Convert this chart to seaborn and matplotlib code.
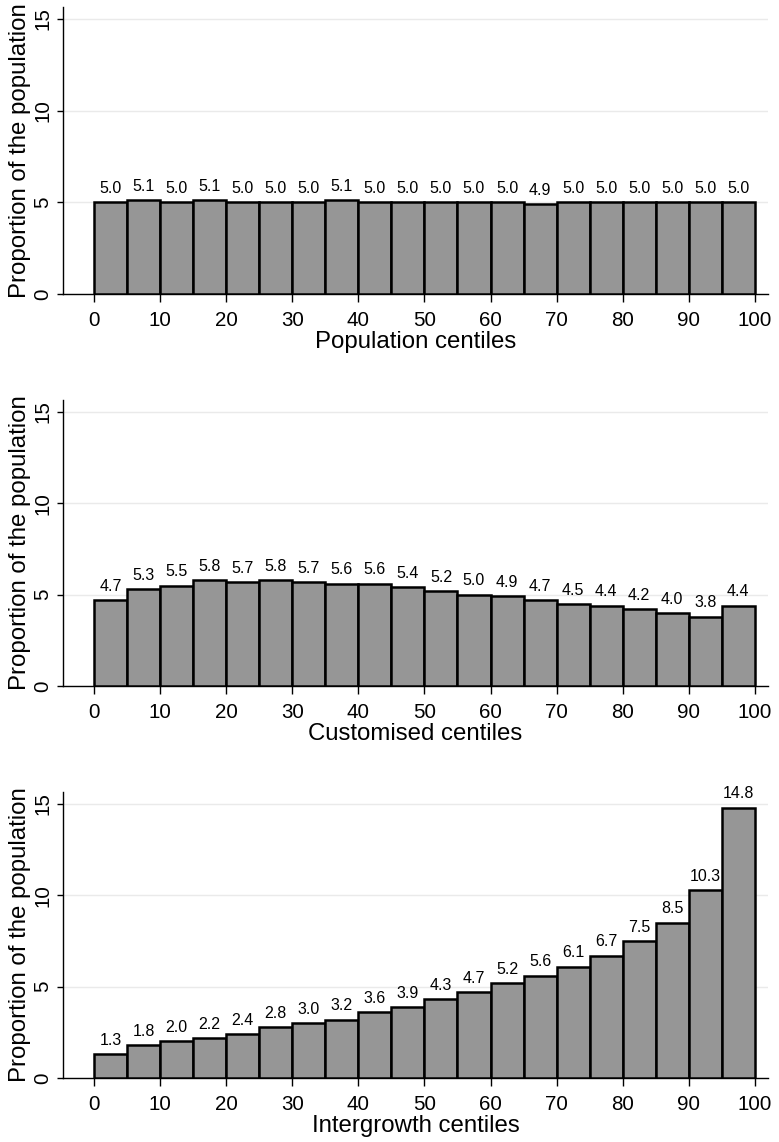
import numpy as np
import pandas as pd
import seaborn as sns
import matplotlib.pyplot as plt

# centile bins (width 5) and the share of the population in each
bin_edges = list(range(0, 105, 5))
bin_mid = [2.5, 7.5, 12.5, 17.5, 22.5, 27.5, 32.5, 37.5, 42.5, 47.5,
           52.5, 57.5, 62.5, 67.5, 72.5, 77.5, 82.5, 87.5, 92.5, 97.5]

population = [5.0, 5.1, 5.0, 5.1, 5.0, 5.0, 5.0, 5.1, 5.0, 5.0,
              5.0, 5.0, 5.0, 4.9, 5.0, 5.0, 5.0, 5.0, 5.0, 5.0]
customised = [4.7, 5.3, 5.5, 5.8, 5.7, 5.8, 5.7, 5.6, 5.6, 5.4,
              5.2, 5.0, 4.9, 4.7, 4.5, 4.4, 4.2, 4.0, 3.8, 4.4]
intergrowth = [1.3, 1.8, 2.0, 2.2, 2.4, 2.8, 3.0, 3.2, 3.6, 3.9,
               4.3, 4.7, 5.2, 5.6, 6.1, 6.7, 7.5, 8.5, 10.3, 14.8]

panels = [("Population centiles", population),
          ("Customised centiles", customised),
          ("Intergrowth centiles", intergrowth)]

x_ticks = list(range(0, 101, 10))
y_ticks = [0, 5, 10, 15]

sns.set_style("white", {"text.color": "black", "axes.labelcolor": "black",
                        "xtick.color": "black", "ytick.color": "black"})
plt.rcParams['font.family'] = ['Liberation Sans', 'DejaVu Sans']

fig = plt.figure(figsize=(7.79, 11.42), dpi=100)

# axes boxes (left, bottom, width, height) in figure fractions
boxes = [(0.0809, 0.7426, 0.905, 0.2513),
         (0.0809, 0.3993, 0.905, 0.2504),
         (0.0809, 0.0560, 0.905, 0.2505)]

for (label, vals), box in zip(panels, boxes):
    ax = fig.add_axes(box)
    df = pd.DataFrame({"centile": bin_mid, "share": vals})
    sns.histplot(data=df, x="centile", weights="share", bins=bin_edges,
                 color="#969696", alpha=1, edgecolor="black", linewidth=1.8,
                 ax=ax, zorder=3)

    ax.bar_label(ax.containers[0], labels=[f"{v:.1f}" for v in vals],
                 padding=4.5, fontsize=11.5, color="black")

    ax.set_xlim(-4.7, 102)
    ax.set_ylim(0, 15.65)
    ax.set_xticks(x_ticks)
    ax.set_yticks(y_ticks)
    ax.set_yticklabels([str(t) for t in y_ticks], rotation=90, va="center")

    ax.grid(axis="y", color="#eaeaea", linewidth=1, zorder=0)
    ax.set_axisbelow(True)

    for side in ["top", "right"]:
        ax.spines[side].set_visible(False)
    for side in ["left", "bottom"]:
        ax.spines[side].set_color("black")
        ax.spines[side].set_linewidth(1)

    ax.tick_params(axis="both", direction="out", width=1,
                   color="black", labelcolor="black", labelsize=14.8,
                   bottom=True, left=True)
    ax.tick_params(axis="x", length=6, pad=6.5)
    ax.tick_params(axis="y", length=4.5, pad=3)

    ax.set_xlabel(label, fontsize=17.3, labelpad=0.5)
    ax.set_ylabel("Proportion of the population", fontsize=17.3, labelpad=2)

fig.savefig("out.png", dpi=100, facecolor="white")
